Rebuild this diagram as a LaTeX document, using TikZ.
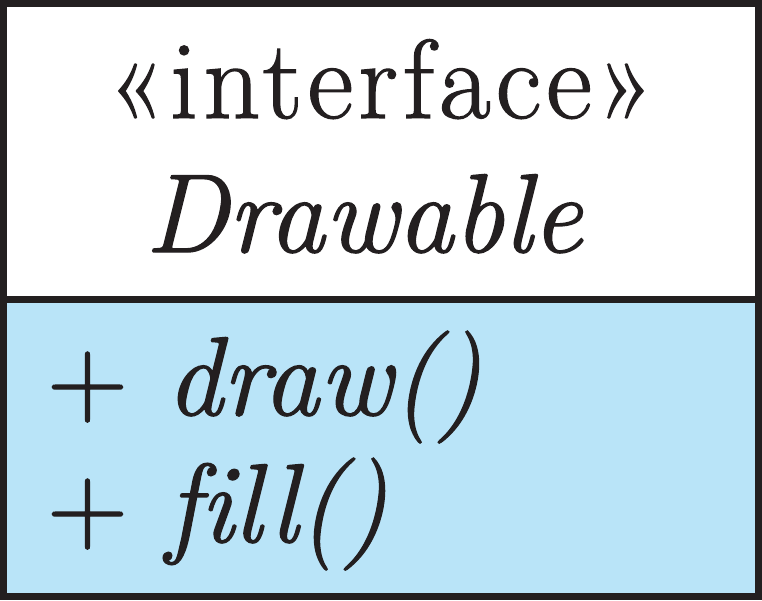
\documentclass[tikz,border=0pt]{standalone}
\usepackage{fontspec}
\setmainfont{Latin Modern Roman}[
  Ligatures=CommonOff,
  UprightFeatures={FakeBold=1.2},
  ItalicFeatures={FakeBold=1.2}]
\usepackage{xcolor}
\usepackage{tikz}
\usetikzlibrary{positioning}

\definecolor{boxline}{HTML}{231F20}
\definecolor{opsblue}{HTML}{B9E4F8}

\tikzset{
  umltext/.style={inner sep=0pt, anchor=base, text=boxline,
    font=\fontsize{112}{127}\selectfont},
  umlop/.style={umltext, anchor=base west},
}

\begin{document}
\begin{tikzpicture}[x=1pt, y=1pt]
    \useasboundingbox (0,0) rectangle (762,-600);

    \coordinate (TL) at (3.5,-3.5);
    \coordinate (TR) at (758.5,-3.5);
    \coordinate (ML) at (3.5,-299.5);
    \coordinate (MR) at (758.5,-299.5);
    \coordinate (BL) at (3.5,-596.5);
    \coordinate (BR) at (758.5,-596.5);

    \fill[white] (TL) rectangle (MR);
    \fill[opsblue] (ML) rectangle (BR);
    \draw[boxline, line width=7pt] (TL) rectangle (BR);
    \draw[boxline, line width=7pt] (ML) -- (MR);

    \node[umltext] (stereo) at (381,-118) {\addfontfeature{LetterSpace=4.6}«interface»};
    \node[umltext] (name) at (364,-252) {\textit{Drawable}};

    % operations
    \node[umlop] (plusdraw) at (47,-415) {+};
    \node[umlop] (opdraw) at (166,-415) {\textit{draw()}};
    \node[umlop] (plusfill) at (47,-542) {+};
    \node[umlop] (opfill) at (166,-542) {\textit{fill()}};
\end{tikzpicture}
\end{document}
